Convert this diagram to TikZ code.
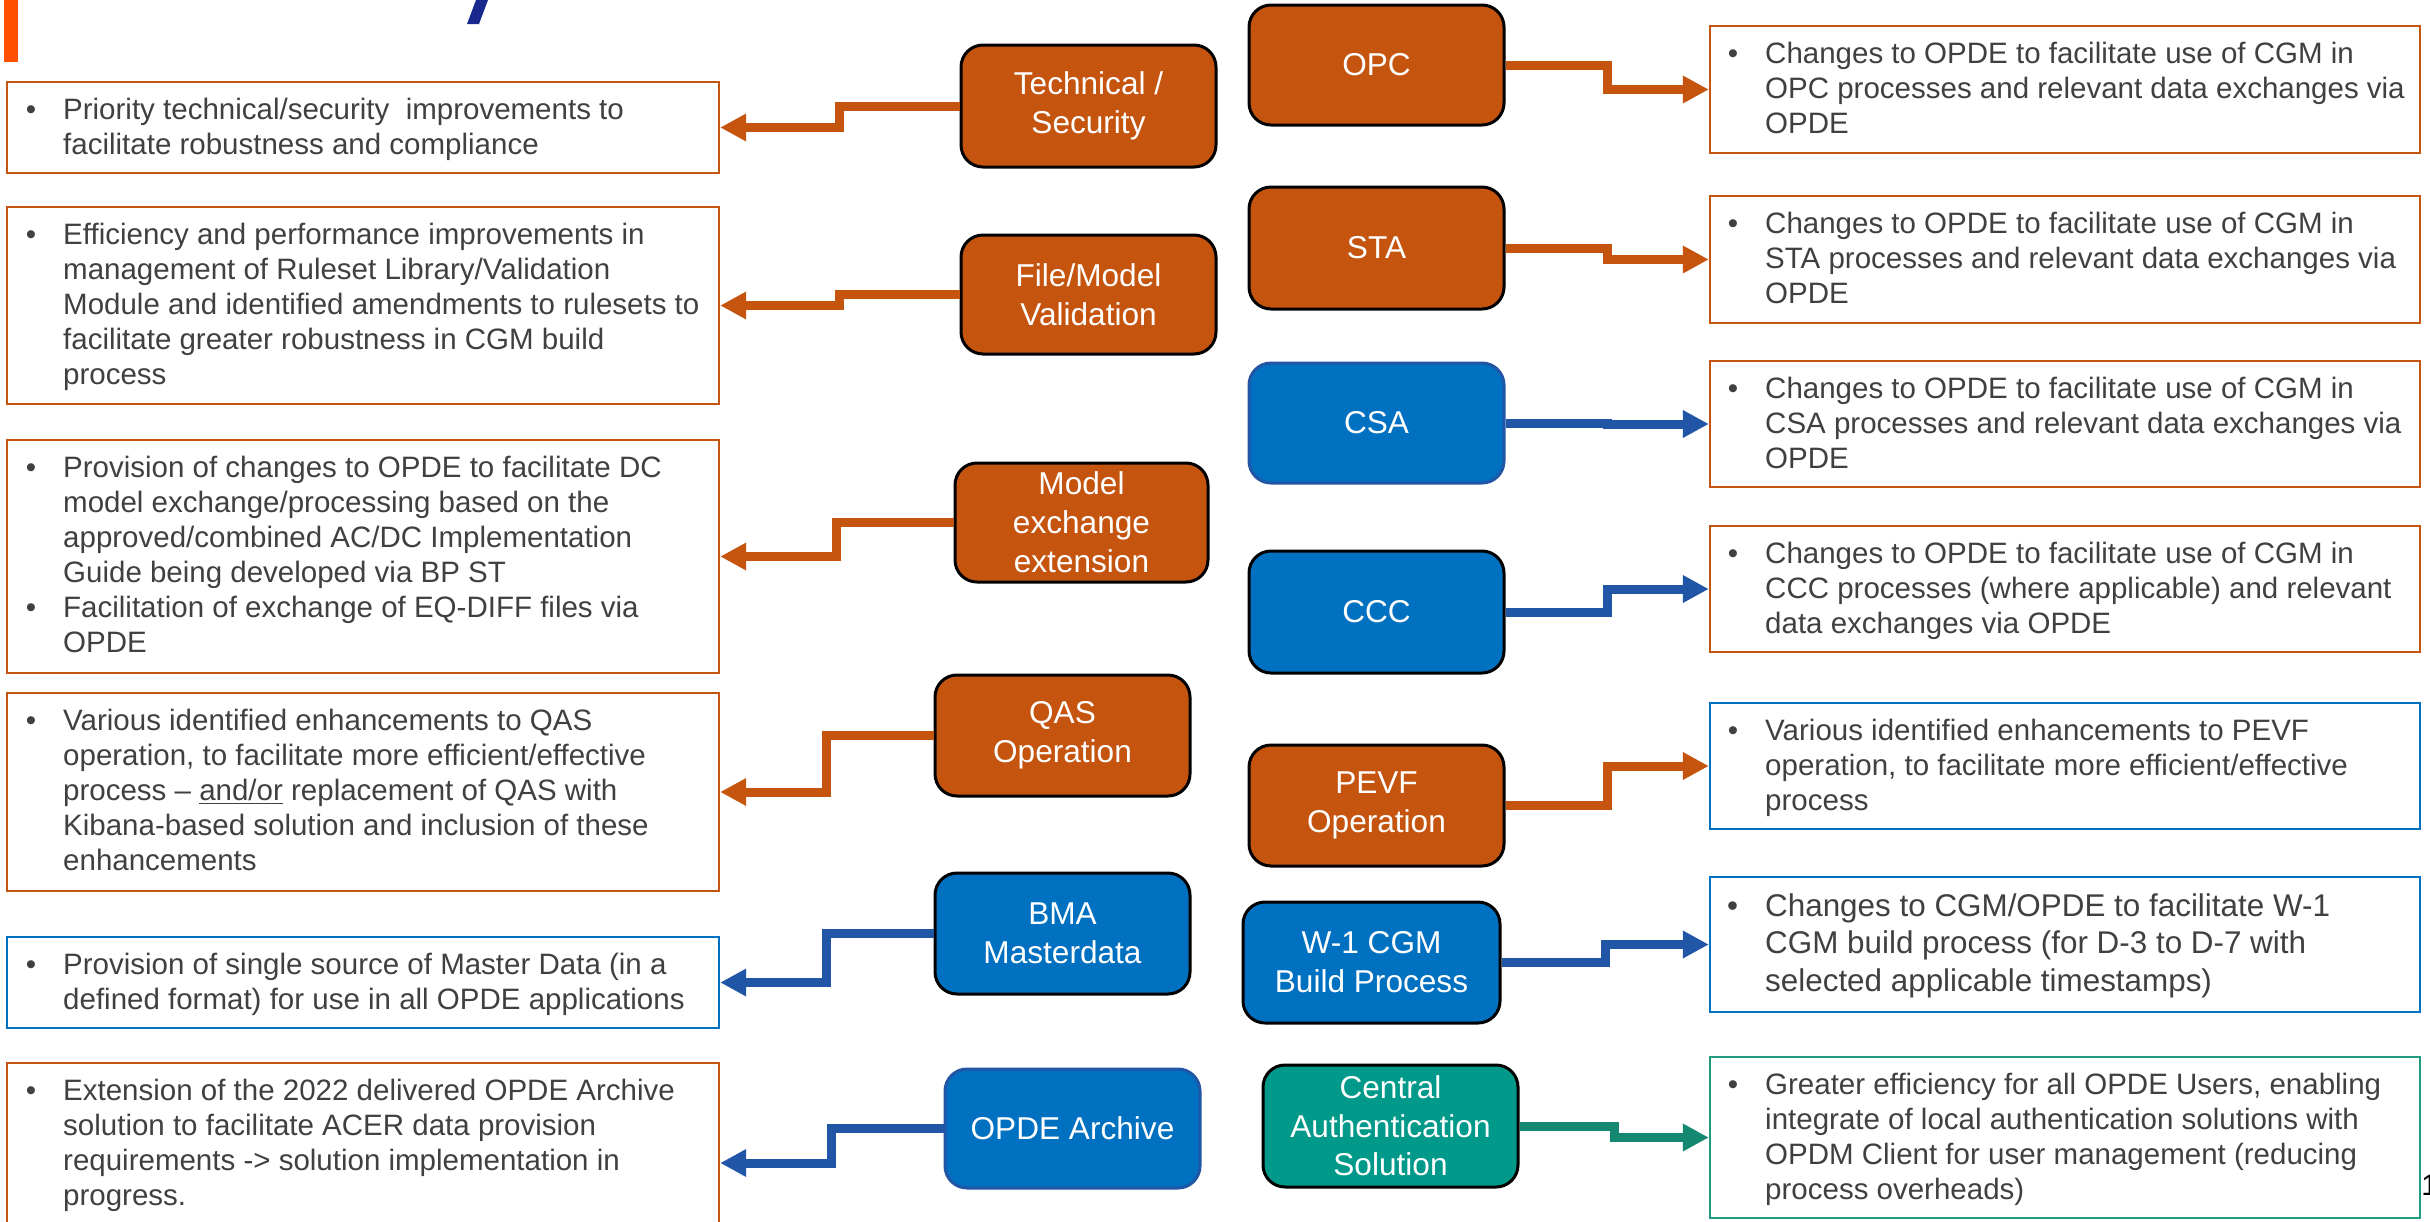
\documentclass[tikz,border=0pt]{standalone}
\usepackage{fontspec}
\setmainfont{Liberation Sans}
\usetikzlibrary{arrows.meta,calc}
\definecolor{cOr}{RGB}{197,84,14}
\definecolor{cBl}{RGB}{0,112,192}
\definecolor{cTe}{RGB}{0,153,138}
\definecolor{cBlA}{RGB}{33,85,165}
\definecolor{cTeA}{RGB}{20,136,112}
\definecolor{cTeB}{RGB}{30,156,130}
\definecolor{cTx}{RGB}{64,64,64}
\definecolor{cBar}{RGB}{255,80,0}
\definecolor{cNavy}{RGB}{25,40,140}
\newcommand{\listfont}{\fontsize{14.75pt}{17.5pt}\selectfont}
\newcommand{\bigfont}{\fontsize{15.7pt}{18.75pt}\selectfont}
\newcommand{\boxfont}{\fontsize{15.8pt}{19.5pt}\selectfont}
\newcommand{\mybul}{\llap{•\hspace{13.5pt}}}
\newcommand{\myfst}{\rule{0pt}{19pt}}
\newcommand{\myfstb}{\rule{0pt}{20pt}}
\tikzset{
  proc/.style={rounded corners=11pt, draw=black, line width=1.5pt, text=white,
    align=center, font=\boxfont, inner sep=0pt, minimum width=127.5pt},
  obox/.style={proc, fill=cOr},
  bbox/.style={proc, fill=cBl},
  gbox/.style={proc, fill=cTe},
  tbox/.style={line width=1.2pt, fill=white, inner sep=0pt},
  lbox/.style={tbox, minimum width=356pt},
  rbox/.style={tbox, minimum width=355pt},
  ltext/.style={anchor=north west, inner sep=0pt, align=left, text=cTx, font=\listfont},
  arr/.style={line width=4.5pt, -{Triangle[length=13pt,width=13pt]}},
}
\begin{document}
\begin{tikzpicture}[x=0.5pt,y=-0.5pt]
\useasboundingbox (0,0) rectangle (2430,1221);
\fill[white] (0,0) rectangle (2430,1221);
\fill[cBar] (4,0) rectangle (18,62);
\fill[cNavy] (476,0) -- (488,0) -- (479,24) -- (467,24) -- cycle;

% process boxes
\node[obox, minimum height=61pt] (tech) at (1088.5,106) {Technical /\\Security};
\node[obox, minimum height=59.5pt] (file) at (1088.5,294.5) {File/Model\\Validation};
\node[obox, minimum width=126.5pt, minimum height=59.5pt] (model) at (1081.5,522.5) {Model\\exchange\\extension};
\node[obox, minimum height=60.5pt] (qas) at (1062.5,735.5) {QAS\\Operation};
\node[bbox, minimum height=60.5pt] (bma) at (1062.5,933.5) {BMA\\Masterdata};
\node[bbox, draw=cBlA, minimum height=59.5pt] (arch) at (1072.5,1128.5) {OPDE Archive};

\node[obox, minimum height=60pt] (opc) at (1376.5,65) {OPC};
\node[obox, minimum height=61pt] (sta) at (1376.5,248) {STA};
\node[bbox, draw=cBlA, minimum height=60pt] (csa) at (1376.5,423) {CSA};
\node[bbox, minimum height=61pt] (ccc) at (1376.5,612) {CCC};
\node[obox, minimum height=60.5pt] (pevf) at (1376.5,805.5) {PEVF\\Operation};
\node[bbox, minimum width=128.5pt, minimum height=60.5pt] (w1) at (1371.5,962.5) {W-1 CGM\\Build Process};
\node[gbox, minimum height=61pt, font=\fontsize{15.8pt}{19.2pt}\selectfont] (cas) at (1390.5,1126) {Central\\Authentication\\Solution};

% left text boxes
\node[lbox, draw=cOr, minimum height=45.5pt] (l1) at (363,127.5) {};
\node[lbox, draw=cOr, minimum height=98.5pt] (l2) at (363,305.5) {};
\node[lbox, draw=cOr, minimum height=116.5pt] (l3) at (363,556.5) {};
\node[lbox, draw=cOr, minimum height=99pt] (l4) at (363,792) {};
\node[lbox, draw=cBl, minimum height=45.5pt] (l5) at (363,982.5) {};
\node[lbox, draw=cOr, minimum height=100pt] (l6) at (363,1163) {};

\node[ltext] (l1t) at ([xshift=28.5pt]l1.north west) {\myfst\mybul Priority technical/security~ improvements to\\facilitate robustness and compliance};
\node[ltext] (l2t) at ([xshift=28.5pt]l2.north west) {\myfst\mybul Efficiency and performance improvements in\\management of Ruleset Library/Validation\\Module and identified amendments to rulesets to\\facilitate greater robustness in CGM build\\process};
\node[ltext] (l3t) at ([xshift=28.5pt]l3.north west) {\myfst\mybul Provision of changes to OPDE to facilitate DC\\model exchange/processing based on the\\approved/combined AC/DC Implementation\\Guide being developed via BP ST\\\mybul Facilitation of exchange of EQ-DIFF files via\\OPDE};
\node[ltext] (l4t) at ([xshift=28.5pt]l4.north west) {\myfst\mybul Various identified enhancements to QAS\\operation, to facilitate more efficient/effective\\process – \underline{and/or} replacement of QAS with\\Kibana-based solution and inclusion of these\\enhancements};
\node[ltext] (l5t) at ([xshift=28.5pt]l5.north west) {\myfst\mybul Provision of single source of Master Data (in a\\defined format) for use in all OPDE applications};
\node[ltext] (l6t) at ([xshift=28.5pt]l6.north west) {\myfst\mybul Extension of the 2022 delivered OPDE Archive\\solution to facilitate ACER data provision\\requirements -> solution implementation in\\progress.};

% right text boxes
\node[rbox, draw=cOr, minimum height=63.5pt] (r1) at (2065,89.5) {};
\node[rbox, draw=cOr, minimum height=63.5pt] (r2) at (2065,259.5) {};
\node[rbox, draw=cOr, minimum height=63pt] (r3) at (2065,424) {};
\node[rbox, draw=cOr, minimum height=63pt] (r4) at (2065,589) {};
\node[rbox, draw=cBl, minimum height=63pt] (r5) at (2065,766) {};
\node[rbox, draw=cBl, minimum height=67.5pt] (r6) at (2065,944.5) {};
\node[rbox, draw=cTeB, minimum height=80.5pt] (r7) at (2065,1137.5) {};

\node[ltext] (r1t) at ([xshift=28pt]r1.north west) {\myfst\mybul Changes to OPDE to facilitate use of CGM in\\OPC processes and relevant data exchanges via\\OPDE};
\node[ltext] (r2t) at ([xshift=28pt]r2.north west) {\myfst\mybul Changes to OPDE to facilitate use of CGM in\\STA processes and relevant data exchanges via\\OPDE};
\node[ltext] (r3t) at ([xshift=28pt]r3.north west) {\myfst\mybul Changes to OPDE to facilitate use of CGM in\\CSA processes and relevant data exchanges via\\OPDE};
\node[ltext] (r4t) at ([xshift=28pt]r4.north west) {\myfst\mybul Changes to OPDE to facilitate use of CGM in\\CCC processes (where applicable) and relevant\\data exchanges via OPDE};
\node[ltext] (r5t) at ([xshift=28pt]r5.north west) {\myfst\mybul Various identified enhancements to PEVF\\operation, to facilitate more efficient/effective\\process};
\node[ltext, font=\bigfont] (r6t) at ([xshift=28pt]r6.north west) {\myfstb\mybul Changes to CGM/OPDE to facilitate W-1\\CGM build process (for D-3 to D-7 with\\selected applicable timestamps)};
\node[ltext] (r7t) at ([xshift=28pt]r7.north west) {\myfst\mybul Greater efficiency for all OPDE Users, enabling\\integrate of local authentication solutions with\\OPDM Client for user management (reducing\\process overheads)};

\node[anchor=base west, inner sep=0pt, font=\listfont, text=black] (pg) at (2421,1195) {1};

% connectors
\draw[arr, cOr] (tech.west) -| ($(tech.west)!0.5!(l1.east)$) |- (l1.east);
\draw[arr, cOr] (file.west) -| ($(file.west)!0.5!(l2.east)$) |- (l2.east);
\draw[arr, cOr] (model.west) -| ($(model.west)!0.5!(l3.east)$) |- (l3.east);
\draw[arr, cOr] (qas.west) -| ($(qas.west)!0.5!(l4.east)$) |- (l4.east);
\draw[arr, cBlA] (bma.west) -| ($(bma.west)!0.5!(l5.east)$) |- (l5.east);
\draw[arr, cBlA] (arch.west) -| ($(arch.west)!0.5!(l6.east)$) |- (l6.east);

\draw[arr, cOr] (opc.east) -| ($(opc.east)!0.5!(r1.west)$) |- (r1.west);
\draw[arr, cOr] (sta.east) -| ($(sta.east)!0.5!(r2.west)$) |- (r2.west);
\draw[arr, cBlA] (csa.east) -| ($(csa.east)!0.5!(r3.west)$) |- (r3.west);
\draw[arr, cBlA] (ccc.east) -| ($(ccc.east)!0.5!(r4.west)$) |- (r4.west);
\draw[arr, cOr] (pevf.east) -| ($(pevf.east)!0.5!(r5.west)$) |- (r5.west);
\draw[arr, cBlA] (w1.east) -| ($(w1.east)!0.5!(r6.west)$) |- (r6.west);
\draw[arr, cTeA] (cas.east) -| ($(cas.east)!0.5!(r7.west)$) |- (r7.west);
\end{tikzpicture}
\end{document}
